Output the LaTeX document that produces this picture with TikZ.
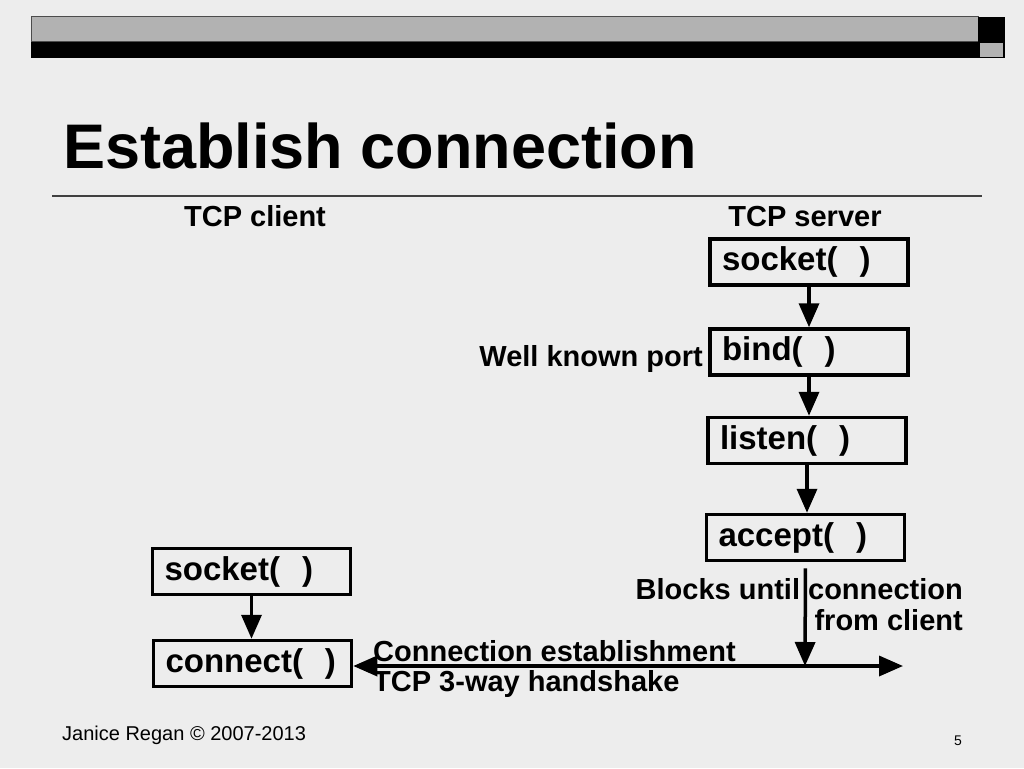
\documentclass[tikz,border=0pt]{standalone}
\usepackage{fontspec}
\setmainfont{Liberation Sans}
\usepackage{xcolor}
\usetikzlibrary{arrows.meta}
\definecolor{slidebg}{RGB}{237,237,237}
\definecolor{bargrey}{RGB}{178,178,178}
\tikzset{
  callbox/.style={draw, line width=3.5pt, minimum height=46pt, text width=174pt, inner xsep=12pt, inner ysep=0pt, align=left, font=\fontsize{33}{36}\selectfont\bfseries},
  lbl/.style={font=\fontsize{29}{31}\selectfont\bfseries},
  flow/.style={line width=3.5pt, -{Triangle[width=20pt,length=24pt]}}
}
\begin{document}
\begin{tikzpicture}[x=1pt, y=-1pt]
		\fill[slidebg] (0,0) rectangle (1024,768);
		\useasboundingbox (0,0) rectangle (1024,768);
		\fill[bargrey] (31,17) rectangle (978,42);
		\draw[black!70, line width=1pt] (31,17) rectangle (978,42);
		\fill[black] (31,42) rectangle (978,58);
		\fill[black] (978,17) rectangle (1005,58);
		\fill[bargrey] (980,43) rectangle (1003,57);
		\node[anchor=base west, inner sep=0pt, font=\fontsize{63}{70}\selectfont\bfseries] (title) at (63,168) {Establish connection};
		\draw[black!75, line width=1.2pt] (52,196) -- (982,196);
		\node[lbl, anchor=base, inner sep=0pt] (client) at (255,226) {TCP client};
		\node[lbl, anchor=base, inner sep=0pt] (server) at (805,226) {TCP server};
		\node[callbox] (ssocket) at (809,262) {socket(\ \ )};
		\node[callbox] (sbind) at (809,352) {bind(\ \ )};
		\node[callbox] (slisten) at (807,440.5) {listen(\ \ )};
		\node[callbox] (saccept) at (805.5,537.5) {accept(\ \ )};
		\node[callbox] (csocket) at (251.5,571.5) {socket(\ \ )};
		\node[callbox] (cconnect) at (252.5,663.5) {connect(\ \ )};
		\node[lbl, anchor=base east, inner sep=0pt] (port) at (703,366) {Well known port};
		\node[lbl, anchor=base east, inner sep=0pt, align=right] (blocks) at (963,630) {Blocks until connection\\from client};
		\node[lbl, anchor=base west, inner sep=0pt, align=left, font=\fontsize{29}{30}\selectfont\bfseries] (shake) at (373,691) {Connection establishment\\TCP 3-way handshake};
		\coordinate (meet) at (805,666);
		\coordinate (lineend) at (903,666);
		\draw[flow] (ssocket.south) -- (ssocket.south |- sbind.north);
		\draw[flow] (sbind.south) -- (sbind.south |- slisten.north);
		\draw[flow] (slisten.south) -- (slisten.south |- saccept.north);
		\draw[flow] (csocket.south) -- (csocket.south |- cconnect.north);
		\draw[flow, shorten <=6pt] (saccept.south) -- (meet);
		\draw[line width=3.5pt, {Triangle[width=20pt,length=24pt]}-{Triangle[width=20pt,length=24pt]}] (cconnect.east |- lineend) -- (lineend);
		\node[anchor=base west, inner sep=0pt, font=\fontsize{20}{22}\selectfont] (footer) at (62,740) {Janice Regan © 2007-2013};
		\node[anchor=base, inner sep=0pt, font=\fontsize{14}{16}\selectfont] (pagenum) at (958,745) {5};
\end{tikzpicture}
\end{document}
